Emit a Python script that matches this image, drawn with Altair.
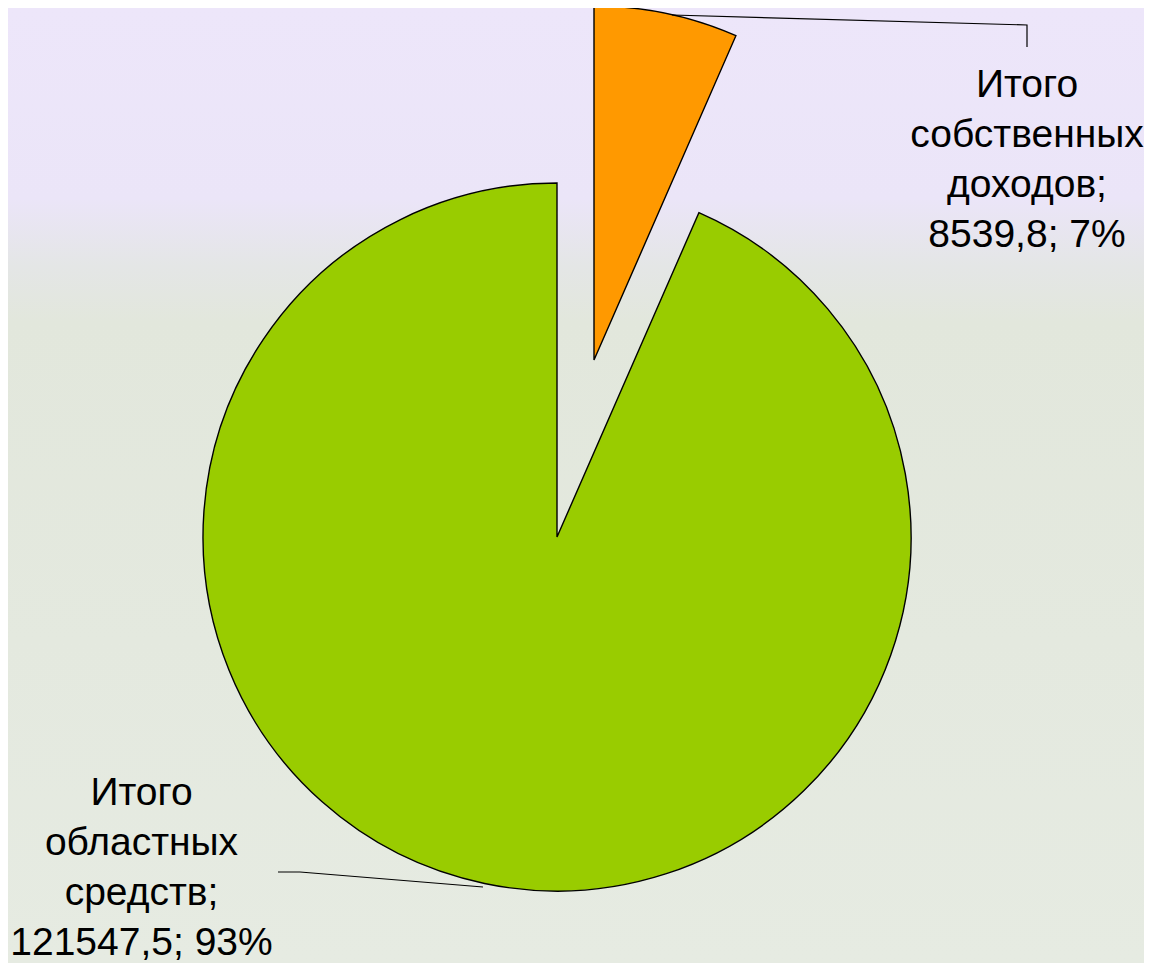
import altair as alt
import pandas as pd

# ---- data ----
categories = ["Итого собственных доходов", "Итого областных средств"]
values = [8539.8, 121547.5]
percents = ["7%", "93%"]
value_labels = ["8539,8", "121547,5"]
colors = ["#ff9900", "#99cc00"]
order = [0, 1]

# ---- layout (chart pixel coordinates, not data) ----
W, H = 1136, 955
CX, CY, R = 549, 529, 354
EXPLODE_DX, EXPLODE_DY = 37, -177

df = pd.DataFrame({"name": categories, "value": values, "ord": order})

label_lines = [
    ["Итого", "собственных", "доходов;", f"{value_labels[0]}; {percents[0]}"],
    ["Итого", "областных", "средств;", f"{value_labels[1]}; {percents[1]}"],
]
label_x = [1019, 133.5]
label_y = [89, 797]
labels_df = pd.DataFrame({"lines": label_lines, "lx": label_x, "ly": label_y})

leader_x = [664, 1019, 1019, 270, 292, 475]
leader_y = [7, 17, 39, 864, 864, 879]
leader_grp = [0, 0, 0, 1, 1, 1]
leader_ord = [0, 1, 2, 0, 1, 2]
leaders_df = pd.DataFrame({"x": leader_x, "y": leader_y, "g": leader_grp, "o": leader_ord})

xs = alt.Scale(domain=[0, W], range=[0, W], zero=False, nice=False)
ys = alt.Scale(domain=[0, H], range=[0, H], zero=False, nice=False)

color_scale = alt.Scale(domain=categories, range=colors)

bg = alt.Chart(alt.Data(values=[{}])).mark_rect(
    color=alt.Gradient(
        gradient="linear",
        stops=[
            alt.GradientStop(offset=0.0, color="#ede6fa"),
            alt.GradientStop(offset=0.2, color="#ebe5f8"),
            alt.GradientStop(offset=0.27, color="#e4e6e6"),
            alt.GradientStop(offset=0.33, color="#e2e7dc"),
            alt.GradientStop(offset=1.0, color="#e6ebe2"),
        ],
        x1=0, x2=0, y1=0, y2=1,
    )
).encode(x=alt.value(0), x2=alt.value(W), y=alt.value(0), y2=alt.value(H))

base = alt.Chart(df).encode(
    theta=alt.Theta("value:Q", stack=True),
    order=alt.Order("ord:Q"),
    fill=alt.Fill("name:N", scale=color_scale, legend=None),
)

main_slice = base.mark_arc(radius=R, stroke="black", strokeWidth=1.4).encode(
    x=alt.value(CX), y=alt.value(CY),
    opacity=alt.condition(alt.datum.ord == 1, alt.value(1), alt.value(0)),
)

exploded = base.mark_arc(radius=R, stroke="black", strokeWidth=1.4).encode(
    x=alt.value(CX + EXPLODE_DX), y=alt.value(CY + EXPLODE_DY),
    opacity=alt.condition(alt.datum.ord == 0, alt.value(1), alt.value(0)),
)

leaders = alt.Chart(leaders_df).mark_line(color="black", strokeWidth=1.2).encode(
    x=alt.X("x:Q", scale=xs, axis=None),
    y=alt.Y("y:Q", scale=ys, axis=None),
    detail="g:N",
    order="o:Q",
)

labels = alt.Chart(labels_df).mark_text(
    font="Liberation Sans", fontSize=39, lineHeight=50, align="center",
    baseline="alphabetic", color="black",
).encode(
    x=alt.X("lx:Q", scale=xs, axis=None),
    y=alt.Y("ly:Q", scale=ys, axis=None),
    text="lines",
)

chart = alt.layer(bg, main_slice, exploded, leaders, labels).properties(
    width=W, height=H, padding=0, autosize=alt.AutoSizeParams(type="none")
).configure_view(stroke=None).resolve_scale(x="shared", y="shared")

chart.save("out.html", embed_options={"renderer": "svg", "actions": False})
